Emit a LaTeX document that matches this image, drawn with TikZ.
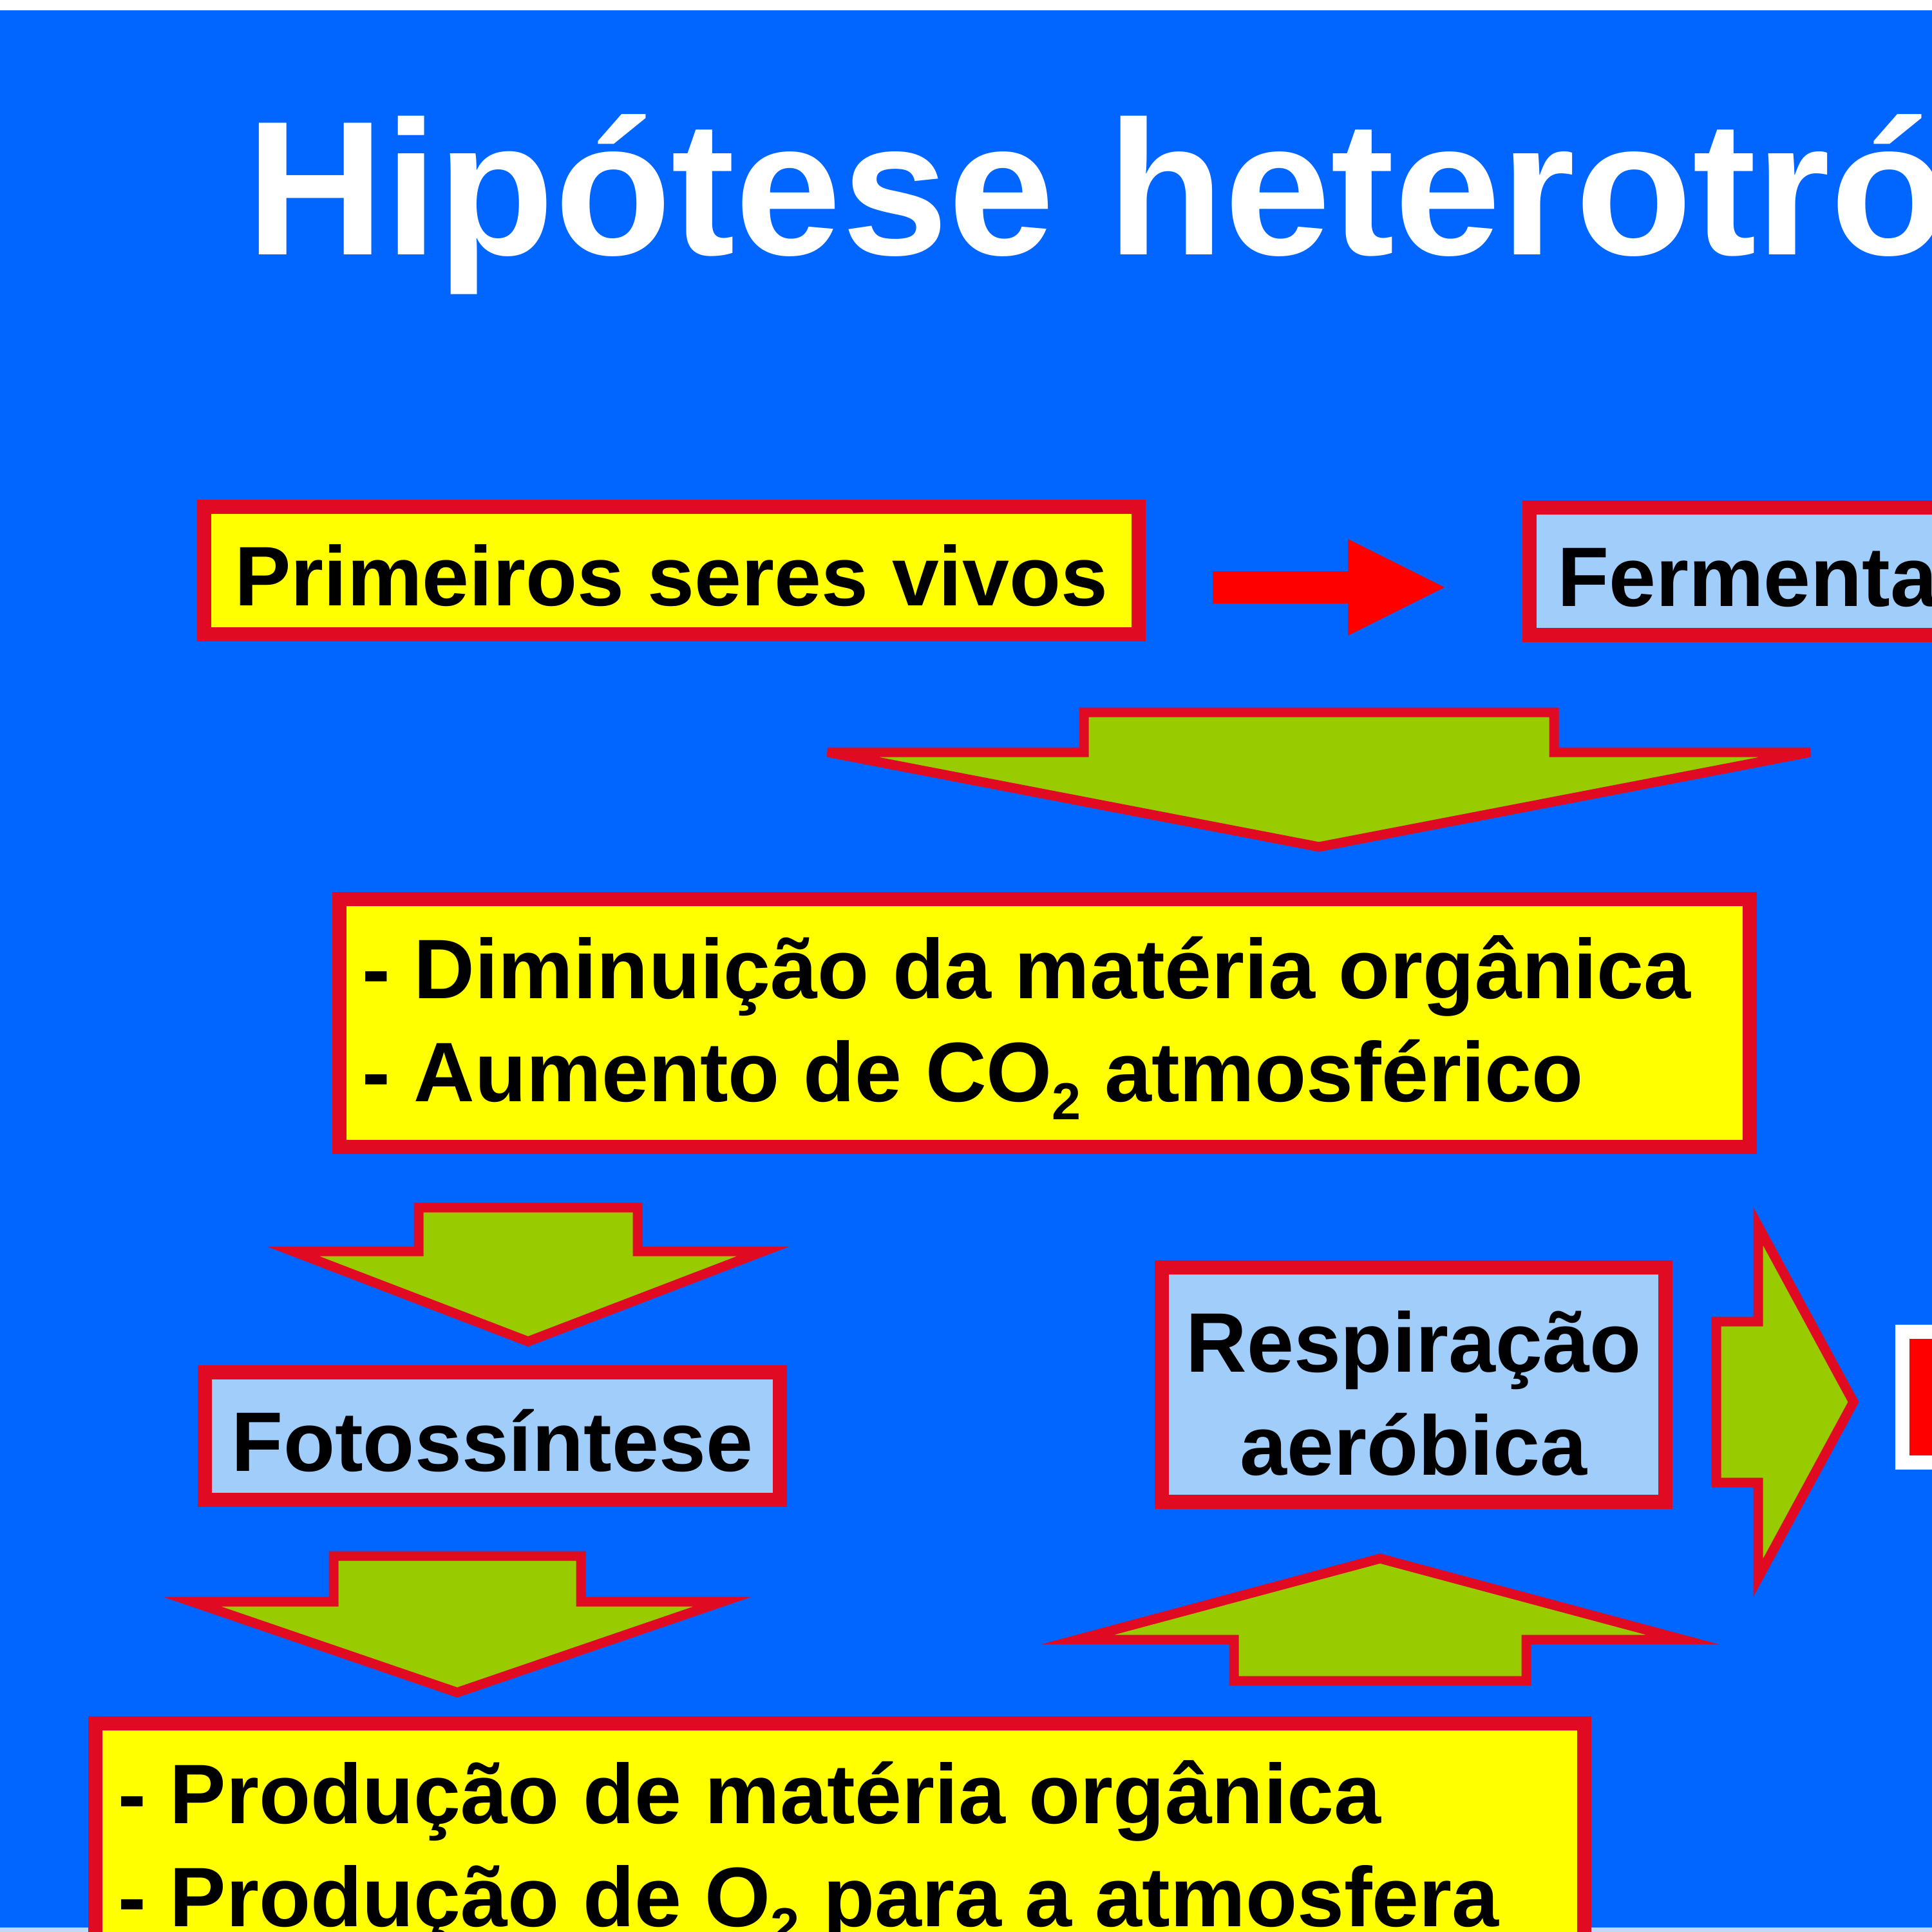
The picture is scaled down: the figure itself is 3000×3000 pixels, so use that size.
\documentclass[tikz,border=0pt]{standalone}
\usepackage{fontspec}
\setmainfont{Liberation Sans}
\definecolor{slideblue}{RGB}{0,102,255}
\definecolor{boxred}{RGB}{225,10,35}
\definecolor{boxyellow}{RGB}{255,255,0}
\definecolor{boxblue}{RGB}{160,205,250}
\definecolor{arrowgreen}{RGB}{153,204,0}
\newcommand{\caixafont}{\fontsize{37.3}{45}\selectfont\bfseries}
\newcommand{\indice}[1]{\raisebox{-0.22em}{\fontsize{23}{23}\selectfont #1}}
\tikzset{
  box/.style={draw=boxred, line width=0.22cm, inner sep=0pt, text height=1.08cm, text depth=0pt, font=\caixafont},
  ybox/.style={box, fill=boxyellow},
  bbox/.style={box, fill=boxblue},
  txtline/.style={font=\caixafont, inner sep=0pt},
  garrow/.style={fill=arrowgreen, draw=boxred, line width=0.15cm, line join=miter},
}

\begin{document}
\begin{tikzpicture}[x=0.01cm,y=-0.01cm]
    \useasboundingbox (0,0) rectangle (3000,3000);
    \clip (0,0) rectangle (3000,3000);
    % slide background
    \fill [slideblue] (0,0) rectangle (3000,3000);
    \fill [white] (0,0) rectangle (3000,16);
    \fill [white!75!slideblue] (0,2993) rectangle (3000,3000);
    % title
    \node [anchor=base west, inner sep=0pt, text=white, font=\fontsize{84.5}{100}\selectfont\bfseries] (titulo) at (382,395) {Hipótese heterotrófica};
    % boxes
    \node [ybox, minimum width=14.51cm, minimum height=1.98cm] (prim) at (1042.5,886) {Primeiros seres vivos};
    \node [bbox, anchor=west, inner xsep=0.43cm, minimum height=1.98cm] (ferm) at (2364,887) {Fermentação};
    \node [ybox, minimum width=21.88cm, minimum height=3.85cm] (dimi) at (1622,1588.5) {};
    \node [txtline, anchor=base west] (dimiA) at (562,1550) {- Diminuição da matéria orgânica};
    \node [txtline, anchor=base west] (dimiB) at (562,1710) {- Aumento de CO\indice{2} atmosférico};
    \node [bbox, minimum width=8.93cm, minimum height=1.98cm] (foto) at (764.5,2230) {Fotossíntese};
    \node [bbox, minimum width=7.82cm, minimum height=3.64cm] (resp) at (2195,2150) {};
    \node [txtline, anchor=base] (respA) at (2195,2130) {Respiração};
    \node [txtline, anchor=base] (respB) at (2195,2290) {aeróbica};
    \node [ybox, minimum width=23.10cm, minimum height=4.24cm] (prod) at (1304,2888) {};
    \node [txtline, anchor=base west] (prodA) at (183,2831) {- Produção de matéria orgânica};
    \node [txtline, anchor=base west] (prodB) at (183,2991) {- Produção de O\indice{2} para a atmosfera};
    \node [draw=white, fill=red, line width=0.22cm, inner sep=0pt, minimum width=3.46cm, minimum height=2.03cm] (fim) at (3127,2169.5) {};
    % arrows
    \fill [red] (1883,887) -- (2093,887) -- (2093,837) -- (2243,912) -- (2093,987) -- (2093,937) -- (1883,937) -- cycle;
    \draw [garrow] (1683,1106) -- (2413,1106) -- (2413,1168) -- (2811,1168) -- (2048,1315) -- (1285,1168) -- (1683,1168) -- cycle;
    \draw [garrow] (650,1875) -- (990,1875) -- (990,1943) -- (1185,1943) -- (820,2083) -- (455,1943) -- (650,1943) -- cycle;
    \draw [garrow] (518,2416) -- (902,2416) -- (902,2487) -- (1122,2487) -- (710,2628) -- (298,2487) -- (518,2487) -- cycle;
    \draw [garrow] (1916,2610) -- (2370,2610) -- (2370,2546) -- (2613,2546) -- (2143,2420) -- (1673,2546) -- (1916,2546) -- cycle;
    \draw [garrow] (2665,2052) -- (2730,2052) -- (2730,1904) -- (2878,2177) -- (2730,2450) -- (2730,2302) -- (2665,2302) -- cycle;
\end{tikzpicture}
\end{document}
